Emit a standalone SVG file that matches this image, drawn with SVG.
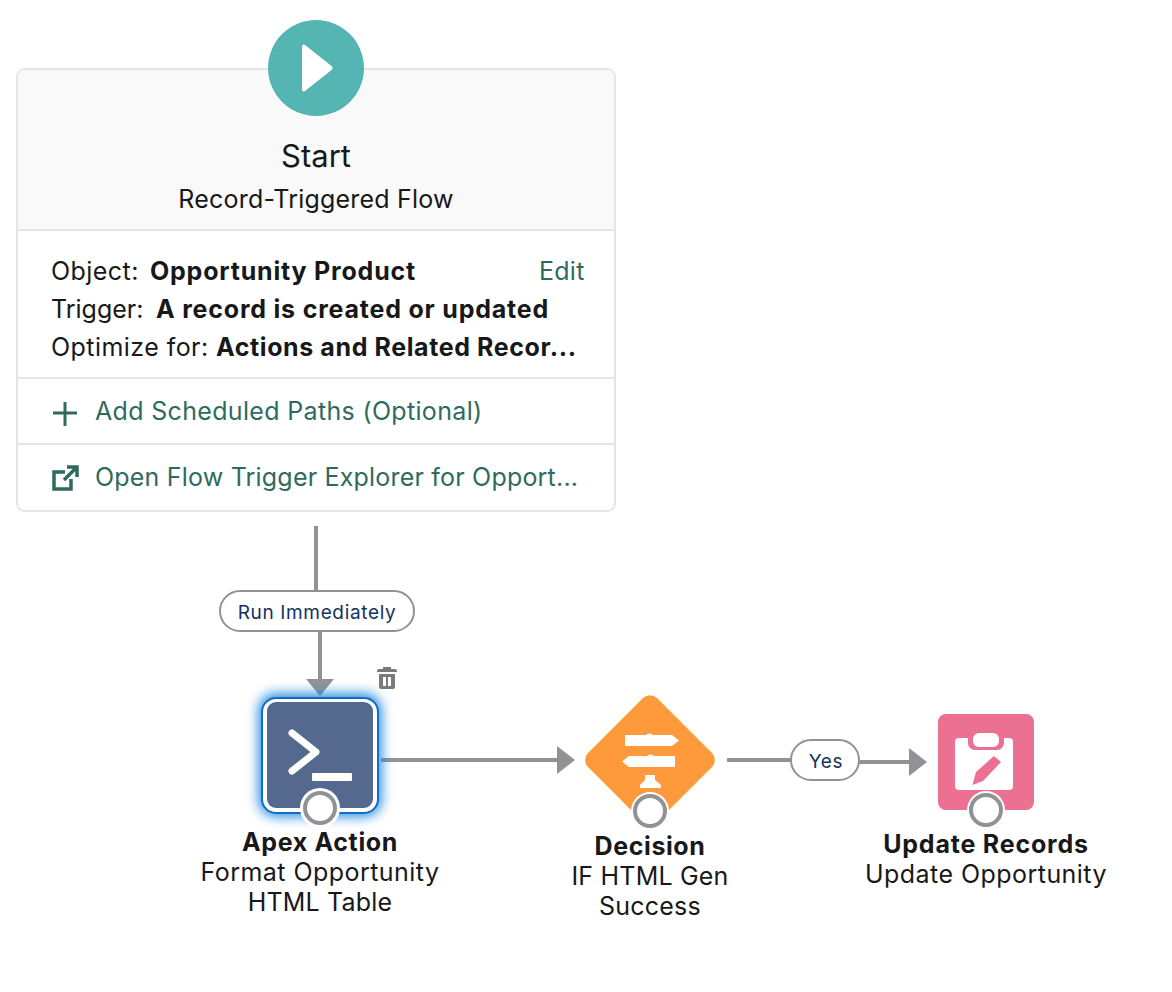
<svg xmlns="http://www.w3.org/2000/svg" width="1172" height="992" viewBox="0 0 1172 992">
<style>
text{font-family:Inter,"Liberation Sans",sans-serif;fill:#181818}
.c{text-anchor:middle}
.t{font-size:25px}
.r{letter-spacing:.45px}
.r2{letter-spacing:.2px}
.b{font-weight:700;letter-spacing:.8px}
.g{fill:#2e6b5e;letter-spacing:.25px}
.sep{stroke:#e5e5e5;stroke-width:2}
.wire{stroke:#929296;stroke-width:4;fill:none}
.head{fill:#929296}
.pill{fill:#fff;stroke:#929296;stroke-width:2}
.pl{font-size:19px;fill:#16325c;letter-spacing:.65px}
.port{fill:#fff;stroke:#929296;stroke-width:4}
.portbg{fill:#fff}
.w{fill:#fff}
</style>
<defs>
<filter id="glow" x="-30%" y="-30%" width="160%" height="160%"><feGaussianBlur stdDeviation="6"/></filter>
</defs>
<rect width="1172" height="992" fill="#fff"/>

<g id="connectors">
<path class="wire" d="M316 526V591"/>
<path class="wire" d="M320 631V680"/>
<path class="head" d="M306 679H334L320 696Z"/>
<path class="wire" d="M381 760H558"/>
<path class="head" d="M557 746L575 760L557 774Z"/>
<path class="wire" d="M727 760H792"/>
<path class="wire" d="M859 762H910"/>
<path class="head" d="M909 748L927 762L909 776Z"/>
</g>

<g id="start">
<rect x="17" y="69" width="598" height="442" rx="8" fill="#fff" stroke="#e5e5e5" stroke-width="2"/>
<path d="M18 230V77a7 7 0 0 1 7-7H607a7 7 0 0 1 7 7V230Z" fill="#f9f9f9"/>
<path class="sep" d="M17 230H615M17 378H615M17 444H615"/>
<circle cx="316" cy="68" r="48" fill="#54b5b2"/>
<path d="M302 46a2 2 0 0 1 3-1L331.500 66a2.500 2.500 0 0 1 0 4L305 91a2 2 0 0 1-3-1Z" class="w"/>
<text class="c" x="316" y="167" font-size="31">Start</text>
<text class="c" x="316" y="208" font-size="25" letter-spacing=".2">Record-Triggered Flow</text>
<text class="t r" x="51" y="280">Object:</text>
<text class="t b" x="150" y="280">Opportunity Product</text>
<text class="t g" x="539" y="280">Edit</text>
<text class="t" x="51" y="318">Trigger:</text>
<text class="t b" x="156" y="318">A record is created or updated</text>
<text class="t r" x="51" y="356">Optimize for:</text>
<text class="t b" x="216" y="356" style="letter-spacing:.6px">Actions and Related Recor...</text>
<path d="M65 402V426M53 413H77" stroke="#2e6b5e" stroke-width="3" fill="none"/>
<text class="t g" x="95" y="420" style="letter-spacing:.33px">Add Scheduled Paths (Optional)</text>
<path d="M65 472H54V489H71V479M64 480L76 468M67 467H77V477" stroke="#2e6b5e" stroke-width="3.500" fill="none"/>
<text class="t g" x="95" y="486" style="letter-spacing:.2px">Open Flow Trigger Explorer for Opport...</text>
</g>

<g id="run-immediately">
<rect class="pill" x="220" y="591" width="194" height="40" rx="20"/>
<text class="c pl" x="317" y="619">Run Immediately</text>
</g>

<g id="apex-action">
<rect x="258" y="693" width="124" height="124" rx="18" fill="#1f86e0" opacity=".9" filter="url(#glow)"/>
<rect x="262" y="698" width="116" height="115" rx="14" fill="#fff" stroke="#0c6fc4" stroke-width="2"/>
<rect x="267" y="702" width="106" height="106" rx="9" fill="#54698d"/>
<path d="M292 733L316 752L292 771" stroke="#fff" stroke-width="7" stroke-linecap="round" stroke-linejoin="round" fill="none"/>
<rect x="312" y="773" width="40" height="8" rx="1" class="w"/>
<circle class="portbg" cx="320" cy="808" r="20"/>
<circle class="port" cx="320" cy="808" r="15"/>
<path d="M377 671a2 2 0 0 1 2-2h4v-2h8v2h4a2 2 0 0 1 2 2v1H377Zm2 3h16v13a2 2 0 0 1-2 2h-12a2 2 0 0 1-2-2Zm4 3v9h3v-9Zm5 0v9h3v-9Z" fill="#7a7a7a" fill-rule="evenodd"/>
<text class="c t b" x="320" y="851" style="letter-spacing:.65px">Apex Action</text>
<text class="c t r" x="320" y="881">Format Opportunity</text>
<text class="c t r2" x="320" y="911">HTML Table</text>
</g>

<g id="decision">
<path d="M643 698a10 10 0 0 1 14 0L712 753a10 10 0 0 1 0 14L657 822a10 10 0 0 1-14 0L588 767a10 10 0 0 1 0-14Z" fill="#ff9a3c"/>
<path d="M625 735H646a4 3 0 0 1 7 0H672L679 740.500L672 746H625Z" class="w"/>
<path d="M675 756H654a4 3 0 0 0-7 0H629L622 761.500L629 767H675Z" class="w"/>
<path d="M645 775H655V780L661 785V788H640V785L645 780Z" class="w"/>
<circle class="portbg" cx="650" cy="811" r="19"/>
<circle class="port" cx="650" cy="811" r="15"/>
<text class="c t b" x="650" y="855" style="letter-spacing:.6px">Decision</text>
<text class="c t r2" x="650" y="885">IF HTML Gen</text>
<text class="c t r2" x="650" y="915">Success</text>
</g>

<g id="yes">
<rect class="pill" x="791" y="740" width="68" height="40" rx="20"/>
<text class="c pl" x="826" y="768">Yes</text>
</g>

<g id="update-records">
<rect x="938" y="714" width="96" height="96" rx="8" fill="#eb7092"/>
<path d="M963 738h5v5a7 7 0 0 0 7 7h22a7 7 0 0 0 7-7v-5h5a4 4 0 0 1 4 4v44a4 4 0 0 1-4 4h-50a4 4 0 0 1-4-4v-44a4 4 0 0 1 4-4Z" class="w"/>
<rect x="973" y="733" width="26" height="14" rx="6" class="w"/>
<path d="M972.500 785L976 772L994 756L1001 762L983 781Z" fill="#eb7092"/>
<circle class="portbg" cx="986" cy="810" r="19"/>
<circle class="port" cx="986" cy="810" r="15"/>
<text class="c t b" x="986" y="853">Update Records</text>
<text class="c t r" x="986" y="883">Update Opportunity</text>
</g>
</svg>
